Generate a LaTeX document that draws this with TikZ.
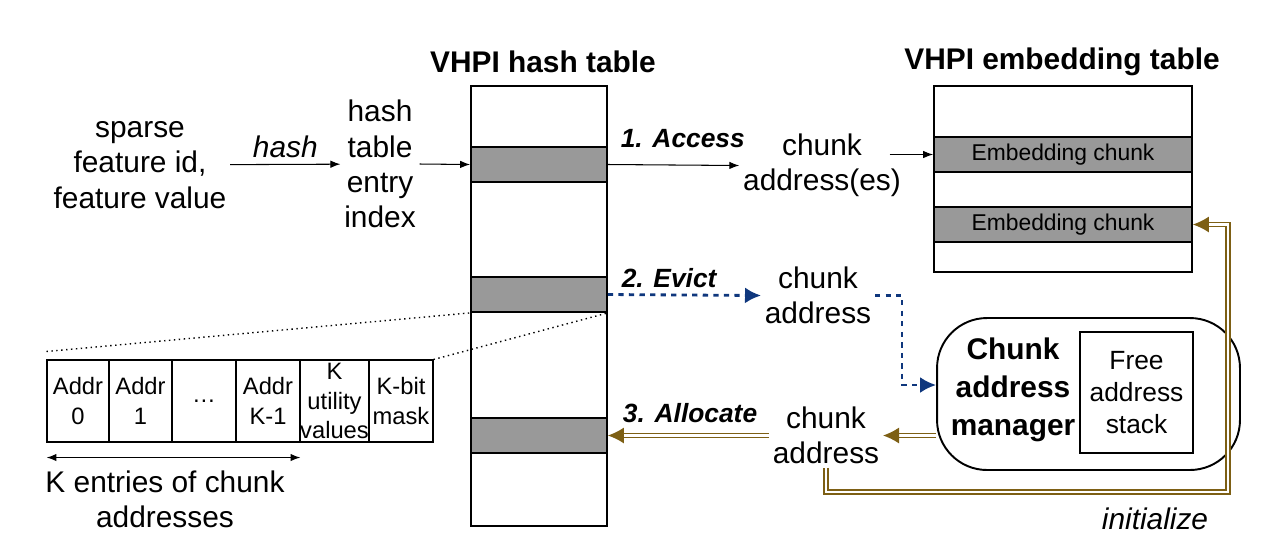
\documentclass[tikz,border=0pt]{standalone}
\usepackage{fontspec}
\setmainfont{Liberation Sans}
\usetikzlibrary{arrows.meta,positioning}
\definecolor{evblue}{RGB}{15,55,125}
\definecolor{algold}{RGB}{125,95,20}

\begin{document}
\begin{tikzpicture}[
  x=0.02cm,y=-0.02cm,
  >={Latex[length=2mm]},
  tbl/.style={draw,line width=1.1pt,inner sep=0pt},
  slot/.style={draw,line width=1pt,fill=black!40,inner sep=0pt,minimum height=0.7cm,
               font=\fontsize{13}{16}\selectfont},
  cell/.style={draw,line width=0.6pt,inner sep=0pt,minimum height=1.64cm,align=center,
               font=\fontsize{13.5}{17}\selectfont},
  txt/.style={align=center,font=\fontsize{17}{20}\selectfont,inner sep=2pt},
  ttl/.style={font=\fontsize{17}{20}\selectfont\bfseries},
  stepl/.style={font=\fontsize{15}{18}\selectfont\bfseries\itshape,text=black},
  plain/.style={->,line width=0.6pt},
  evict/.style={-{Latex[length=3.2mm,width=3.2mm]},evblue,line width=1.6pt,
                dash pattern=on 3pt off 3pt},
  alloc/.style={-{Latex[length=3.2mm,width=3.2mm]},draw=algold,double=white,
                double distance=1.4pt,line width=0.8pt}
]
\useasboundingbox (0,0) rectangle (1274,556);

% titles
\node[ttl] (htitle) at (543,62)  {VHPI hash table};
\node[ttl] (etitle) at (1062,62) {VHPI embedding table};

% hash table
\node[tbl,minimum width=2.72cm,minimum height=8.8cm] (htab) at (539,306) {};
\node[slot,minimum width=2.72cm] (hrow1) at (539,164.5) {};
\node[slot,minimum width=2.72cm] (hrow2) at (539,294.5) {};
\node[slot,minimum width=2.72cm] (hrow3) at (539,435.5) {};

% embedding table
\node[tbl,minimum width=5.16cm,minimum height=3.72cm] (etab) at (1063,179) {};
\node[slot,minimum width=5.16cm] (erow1) at (1063,154.5) {Embedding chunk};
\node[slot,minimum width=5.16cm] (erow2) at (1063,224.5) {Embedding chunk};

% texts
\node[txt] (src)  at (140,165)   {sparse\\feature id,\\feature value};
\node[txt] (hidx) at (380,164)   {hash\\table\\entry\\index};
\node[txt] (acc)  at (822,165.5) {chunk\\address(es)};
\node[txt] (evc)  at (818,295.5) {chunk\\address};
\node[txt] (alc)  at (826,435.5) {chunk\\address};

% chunk address manager
\node[draw,line width=1.1pt,rounded corners=1cm,minimum width=6.06cm,
      minimum height=3.04cm] (mgr) at (1088.5,394) {};
\node[txt,font=\fontsize{17}{21.6}\selectfont\bfseries] (mgrlbl) at (1013,390)
  {Chunk\\address\\manager};
\node[draw,line width=0.6pt,minimum width=2.26cm,minimum height=2.42cm,align=center,
      font=\fontsize{15}{18}\selectfont] (stack) at (1136.5,392.5)
  {Free\\address\\stack};

% entry layout
\foreach \nm/\cx/\cw/\tx in {c1/78/1.24/{Addr\\0},c2/140.5/1.26/{Addr\\1},
    c3/204/1.28/{\ldots},c4/268/1.28/{Addr\\K-1},c5/334.5/1.38/{K\\utility\\values},
    c6/401/1.28/{K-bit\\mask}}
  \node[cell,minimum width=\cw cm] (\nm) at (\cx,401) {\tx};
\draw[<->,line width=0.8pt] ([yshift=-0.3cm]c1.south west) -- ([yshift=-0.3cm]c4.south east);
\node[txt] (klbl) at (165,499) {K entries of chunk\\addresses};
\draw[dotted,line width=0.8pt] ([yshift=0.16cm]c1.north west) -- (hrow2.south west);
\draw[dotted,line width=0.8pt] (c6.north east) -- (hrow2.south east);

% flows
\draw[plain] (src) -- node[above,font=\fontsize{17}{20}\selectfont\itshape]{hash} (hidx);
\draw[plain] (hidx.east) -- (hrow1.west);
\draw[plain] (hrow1.east) -- node[above,stepl,pos=0.57,yshift=0.22cm]{1. Access} (acc.west);
\draw[plain] ([xshift=-0.3cm]acc.east |- erow1.west) -- (erow1.west);

\draw[evict] (hrow2.east) -- node[above,stepl,pos=0.4]{2. Evict} (evc.west);
\draw[evict] (evc.east) -- ++(27,0) |- ([yshift=0.18cm]mgr.west);

\draw[alloc] (mgr.west |- alc.east) -- (alc.east);
\draw[alloc] (alc.west) -- node[above,stepl,pos=0.49,yshift=0.12cm]{3. Allocate} (hrow3.east);
\coordinate (ini) at (1228,492);
\draw[alloc] (alc.south) |- (ini) |- (erow2.east);
\node[font=\fontsize{17}{20}\selectfont\itshape] (inilbl) at (1155,519) {initialize};
\end{tikzpicture}
\end{document}
